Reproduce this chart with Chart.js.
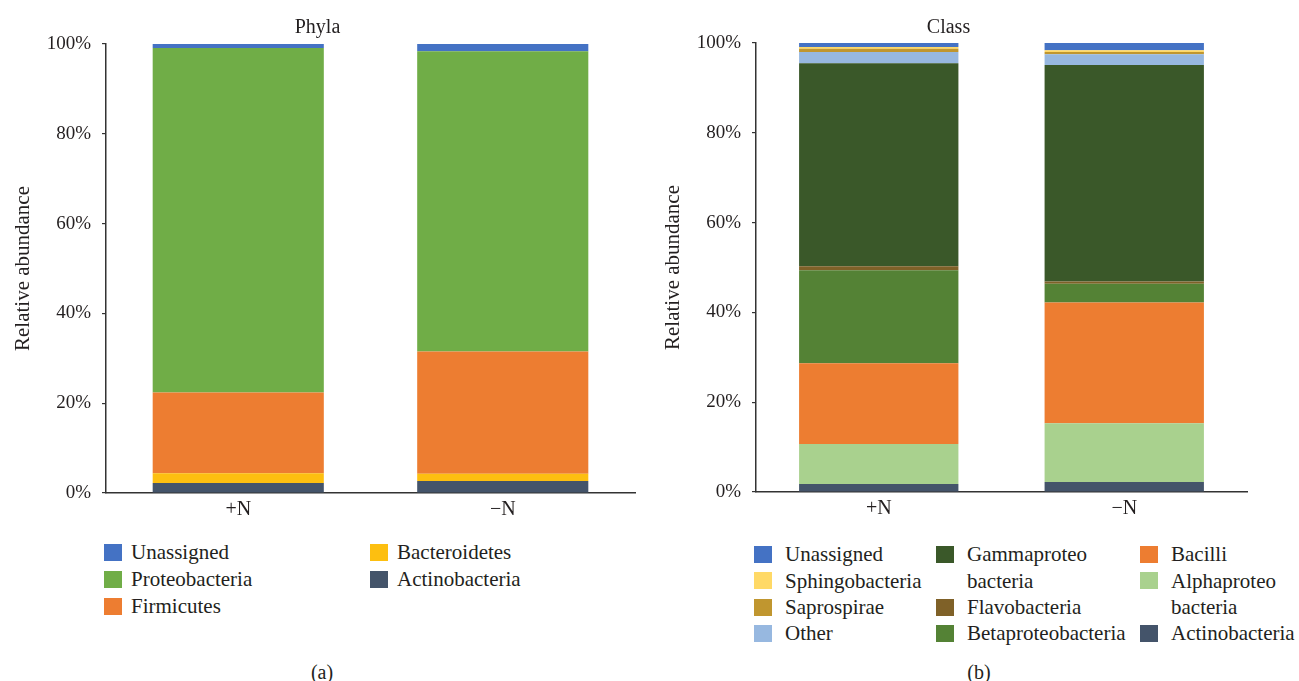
<!DOCTYPE html>
<html>
<head>
<meta charset="utf-8">
<script src="https://cdn.jsdelivr.net/npm/chart.js@4"></script>
<style>
  body { margin: 0; background: #fff; width: 1299px; height: 681px; position: relative; overflow: hidden;
         font-family: "Liberation Serif", serif; color: #231f20; }
  canvas { position: absolute; top: 0; }
  .lg { position: absolute; font-size: 21px; line-height: 26.3px; white-space: pre; }
  .sw { position: absolute; width: 18px; height: 17px; }
  .cap { position: absolute; font-size: 20px; transform: translate(-50%, -50%); }
</style>
</head>
<body>
<canvas id="phyla" width="650" height="530" style="left:0"></canvas>
<canvas id="cls" width="649" height="530" style="left:650px"></canvas>
<div id="legends"></div>
<div class="cap" style="left:322px; top:672px">(a)</div>
<div class="cap" style="left:979px; top:672px">(b)</div>
<script>
// categories and tick labels
const categories = ['+N', '\u2212N'];
const yTicks = [0, 20, 40, 60, 80, 100];

// Phyla (% relative abundance), stack order bottom -> top
const phylaActinobacteria = [2.2, 2.7];
const phylaBacteroidetes  = [2.2, 1.6];
const phylaFirmicutes     = [18.0, 27.2];
const phylaProteobacteria = [76.7, 66.9];
const phylaUnassigned     = [0.9, 1.6];

// Class (% relative abundance), stack order bottom -> top
const clsActinobacteria      = [1.8, 2.2];
const clsAlphaproteobacteria = [8.9, 13.1];
const clsBacilli             = [18.0, 26.9];
const clsBetaproteobacteria  = [20.7, 4.2];
const clsFlavobacteria       = [0.9, 0.5];
const clsGammaproteobacteria = [45.2, 48.2];
const clsOther               = [2.5, 2.4];
const clsSaprospirae         = [0.7, 0.5];
const clsSphingobacteria     = [0.4, 0.4];
const clsUnassigned          = [0.9, 1.6];

const ink = '#231f20';
const axisColor = '#333333';
const serif = 'Liberation Serif';

const phylaSets = [
  { label: 'Actinobacteria', data: phylaActinobacteria, backgroundColor: '#44546a', slot: [1, 1] },
  { label: 'Bacteroidetes',  data: phylaBacteroidetes,  backgroundColor: '#fdbf10', slot: [1, 0] },
  { label: 'Firmicutes',     data: phylaFirmicutes,     backgroundColor: '#ed7d31', slot: [0, 2] },
  { label: 'Proteobacteria', data: phylaProteobacteria, backgroundColor: '#70ad47', slot: [0, 1] },
  { label: 'Unassigned',     data: phylaUnassigned,     backgroundColor: '#4472c4', slot: [0, 0] }
];

const classSets = [
  { label: 'Actinobacteria',          data: clsActinobacteria,      backgroundColor: '#44546a', slot: [2, 3] },
  { label: 'Alphaproteo\nbacteria',   data: clsAlphaproteobacteria, backgroundColor: '#a9d18e', slot: [2, 1] },
  { label: 'Bacilli',                 data: clsBacilli,             backgroundColor: '#ed7d31', slot: [2, 0] },
  { label: 'Betaproteobacteria',      data: clsBetaproteobacteria,  backgroundColor: '#548235', slot: [1, 3] },
  { label: 'Flavobacteria',           data: clsFlavobacteria,       backgroundColor: '#7f6128', slot: [1, 2] },
  { label: 'Gammaproteo\nbacteria',   data: clsGammaproteobacteria, backgroundColor: '#3a5829', slot: [1, 0] },
  { label: 'Other',                   data: clsOther,               backgroundColor: '#97b8e0', slot: [0, 3] },
  { label: 'Saprospirae',             data: clsSaprospirae,         backgroundColor: '#c0962f', slot: [0, 2] },
  { label: 'Sphingobacteria',         data: clsSphingobacteria,     backgroundColor: '#ffd966', slot: [0, 1] },
  { label: 'Unassigned',              data: clsUnassigned,          backgroundColor: '#4472c4', slot: [0, 0] }
];

function makeChart(id, title, sets, o) {
  return new Chart(document.getElementById(id), {
    type: 'bar',
    data: {
      labels: categories,
      datasets: sets.map(s => ({
        label: s.label, data: s.data, backgroundColor: s.backgroundColor,
        borderWidth: 0, barPercentage: o.barPct, categoryPercentage: 1
      }))
    },
    options: {
      responsive: false,
      animation: false,
      layout: { padding: { left: 0, right: o.padRight, top: 0, bottom: 0 } },
      plugins: {
        legend: { display: false },
        tooltip: { enabled: false },
        title: {
          display: true, text: title, color: ink,
          font: { family: serif, size: 20, weight: 'normal' },
          padding: { top: 16, bottom: o.titleBottom }
        }
      },
      scales: {
        x: {
          stacked: true,
          grid: { display: false, drawTicks: false },
          border: { display: true, color: axisColor, width: 1.5 },
          ticks: { color: ink, font: { family: serif, size: 20 }, padding: 5 },
          afterFit: s => { s.height = o.xHeight; }
        },
        y: {
          stacked: true, min: 0, max: 100,
          afterBuildTicks: s => { s.ticks = yTicks.map(v => ({ value: v })); },
          ticks: { color: ink, font: { family: serif, size: 19 }, padding: 11, callback: v => v + '%' },
          grid: { drawOnChartArea: false, drawTicks: true, tickLength: 4, color: axisColor, lineWidth: 1.2 },
          border: { display: true, color: axisColor, width: 1.5 },
          title: {
            display: true, text: 'Relative abundance', color: ink,
            font: { family: serif, size: 21 }, padding: { top: 11, bottom: 0 }
          },
          afterFit: s => { s.width = o.yWidth; }
        }
      }
    }
  });
}

makeChart('phyla', 'Phyla', phylaSets, { barPct: 0.647, padRight: 15, titleBottom: 4, xHeight: 37, yWidth: 106 });
makeChart('cls', 'Class', classSets, { barPct: 0.649, padRight: 52, titleBottom: 3, xHeight: 38, yWidth: 106 });

// HTML legends built from the datasets
function legend(sets, cols, textOff, row0, rowStep) {
  const box = document.getElementById('legends');
  sets.forEach(s => {
    const x = cols[s.slot[0]];
    const cy = row0 + rowStep * s.slot[1];
    const sw = document.createElement('div');
    sw.className = 'sw';
    sw.style.left = x + 'px';
    sw.style.top = (cy - 8.5) + 'px';
    sw.style.background = s.backgroundColor;
    box.appendChild(sw);
    const t = document.createElement('div');
    t.className = 'lg';
    t.style.left = (x + textOff) + 'px';
    t.style.top = (cy - rowStep / 2) + 'px';
    t.style.lineHeight = rowStep + 'px';
    t.textContent = s.label;
    box.appendChild(t);
  });
}
legend(phylaSets, [104, 370], 27, 552, 27);
legend(classSets, [754, 936, 1140], 31, 554.5, 26.3);
</script>
</body>
</html>
